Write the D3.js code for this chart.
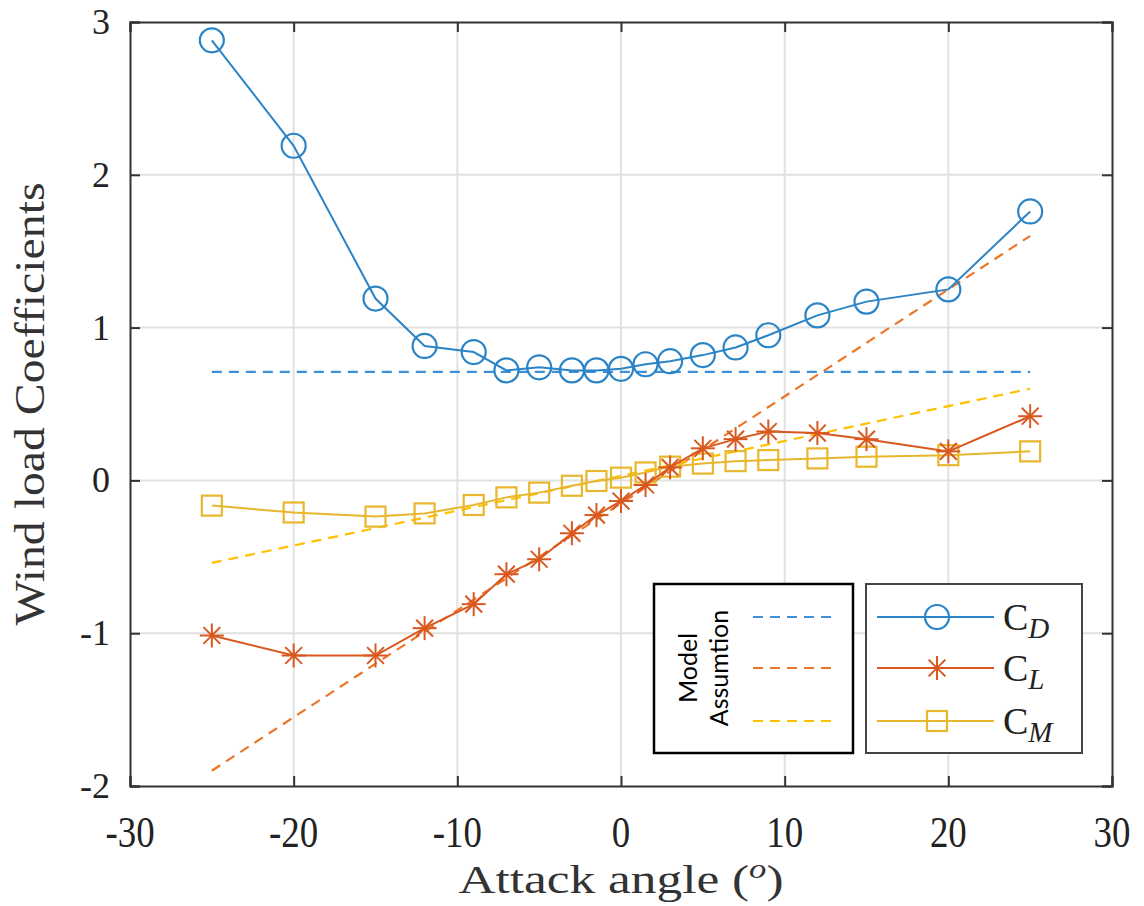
<!DOCTYPE html>
<html><head><meta charset="utf-8">
<script src="https://cdn.jsdelivr.net/npm/d3@7"></script>
<style>body{margin:0;background:#fff}svg{display:block}</style>
</head><body>
<script>
const angles = [-25,-20,-15,-12,-9,-7,-5,-3,-1.5,0,1.5,3,5,7,9,12,15,20,25];
const CD = [2.88,2.19,1.19,0.88,0.84,0.72,0.74,0.72,0.72,0.73,0.76,0.78,0.82,0.87,0.95,1.08,1.17,1.25,1.76];
const CL = [-1.015,-1.146,-1.146,-0.967,-0.81,-0.614,-0.516,-0.346,-0.227,-0.135,-0.03,0.085,0.21,0.27,0.32,0.31,0.27,0.19,0.42];
const CM = [-0.165,-0.21,-0.237,-0.216,-0.161,-0.111,-0.08,-0.035,-0.004,0.018,0.052,0.09,0.11,0.126,0.133,0.144,0.155,0.165,0.19];
// model assumption lines: [angle, value] end points
const modelCD = [[-25,0.71],[25,0.71]];
const modelCL = [[-25,-1.9],[25,1.6]];
const modelCM = [[-25,-0.54],[25,0.6]];
const xTicks = [-30,-20,-10,0,10,20,30];
const yTicks = [-2,-1,0,1,2,3];

const W=1144,H=906;
const svg=d3.select("body").append("svg").attr("width",W).attr("height",H);
const x=d3.scaleLinear().domain([-30,30]).range([130,1112]);
const y=d3.scaleLinear().domain([-2,3]).range([786,22]);

const cBlue="#2a84c6", cOrange="#d9581f", cYellow="#e8b72e";
const dBlue="#3d8fd6", dOrange="#ec7628", dYellow="#ffc000";

// grid
const g=svg.append("g");
g.selectAll(".gx").data(xTicks.slice(1,-1)).join("line")
 .attr("x1",d=>x(d)).attr("x2",d=>x(d)).attr("y1",22).attr("y2",786)
 .attr("stroke","#e1e1e1").attr("stroke-width",2);
g.selectAll(".gy").data(yTicks.slice(1,-1)).join("line")
 .attr("y1",d=>y(d)).attr("y2",d=>y(d)).attr("x1",130).attr("x2",1112)
 .attr("stroke","#e1e1e1").attr("stroke-width",2);

// axes (inner ticks, box)
const axB=d3.axisBottom(x).tickValues(xTicks).tickSize(-10).tickFormat("");
const axT=d3.axisTop(x).tickValues(xTicks).tickSize(-10).tickFormat("");
const axL=d3.axisLeft(y).tickValues(yTicks).tickSize(-10).tickFormat("");
const axR=d3.axisRight(y).tickValues(yTicks).tickSize(-10).tickFormat("");
[[axB,"translate(0,786)"],[axT,"translate(0,22)"],[axL,"translate(130,0)"],[axR,"translate(1112,0)"]].forEach(([a,t])=>{
  const s=svg.append("g").attr("transform",t).call(a);
  s.select(".domain").attr("stroke","#333").attr("stroke-width",2);
  s.selectAll(".tick line").attr("stroke","#333").attr("stroke-width",2);
});

// tick labels
svg.append("g").selectAll("text").data(xTicks).join("text")
 .attr("transform",d=>`translate(${x(d)},847) scale(0.82,1)`)
 .attr("text-anchor","middle").attr("font-family","Liberation Serif, serif")
 .attr("font-size",45).attr("fill","#222").text(d=>d);
svg.append("g").selectAll("text").data(yTicks).join("text")
 .attr("x",110).attr("y",d=>y(d)+12).attr("text-anchor","end")
 .attr("font-family","Liberation Serif, serif").attr("font-size",36).attr("fill","#222").text(d=>d);

// axis titles
const xt=svg.append("text").attr("x",x(0)).attr("y",893).attr("text-anchor","middle")
 .attr("font-family","Liberation Serif, serif").attr("font-size",40).attr("fill","#333")
 .attr("textLength",325).attr("lengthAdjust","spacingAndGlyphs");
xt.append("tspan").text("Attack angle (");
xt.append("tspan").attr("font-style","italic").attr("font-size",27).attr("dy",-15).text("o");
xt.append("tspan").attr("dy",15).text(")");
svg.append("text").attr("transform",`translate(44,${y(0.5)}) rotate(-90)`).attr("text-anchor","middle")
 .attr("font-family","Liberation Serif, serif").attr("font-size",43).attr("fill","#333")
 .attr("textLength",443).attr("lengthAdjust","spacingAndGlyphs").text("Wind load Coefficients");

// model lines
const line=d3.line().x(d=>x(d[0])).y(d=>y(d[1]));
[[modelCD,dBlue],[modelCL,dOrange],[modelCM,dYellow]].forEach(([d,c])=>{
  svg.append("path").attr("d",line(d)).attr("fill","none").attr("stroke",c).attr("stroke-width",2.2).attr("stroke-dasharray","10,7");
});

// series
const mk=(vals)=>angles.map((a,i)=>[a,vals[i]]);
const star=(sel,c)=>{
  const r=12;
  [[0,-r,0,r],[-r,0,r,0],[-r*0.7,-r*0.7,r*0.7,r*0.7],[-r*0.7,r*0.7,r*0.7,-r*0.7]].forEach(p=>{
    sel.append("line").attr("x1",p[0]).attr("y1",p[1]).attr("x2",p[2]).attr("y2",p[3]).attr("stroke",c).attr("stroke-width",2);
  });
};
function drawSeries(vals,c,type){
  svg.append("path").attr("d",line(mk(vals))).attr("fill","none").attr("stroke",c).attr("stroke-width",2);
  const gs=svg.append("g").selectAll("g").data(mk(vals)).join("g").attr("transform",d=>`translate(${x(d[0])},${y(d[1])})`);
  if(type==="o") gs.append("circle").attr("r",12).attr("fill","none").attr("stroke",c).attr("stroke-width",2.2);
  if(type==="s") gs.append("rect").attr("x",-10).attr("y",-10).attr("width",20).attr("height",20).attr("fill","none").attr("stroke",c).attr("stroke-width",2.2);
  if(type==="*") gs.each(function(){star(d3.select(this),c);});
}
drawSeries(CM,cYellow,"s");
drawSeries(CL,cOrange,"*");
drawSeries(CD,cBlue,"o");

// legend 1: model assumption
svg.append("rect").attr("x",654).attr("y",584).attr("width",199).attr("height",169).attr("fill","#fff").attr("stroke","#000").attr("stroke-width",2.5);
const mt=svg.append("text").attr("transform","translate(697,668) rotate(-90)").attr("text-anchor","middle")
 .attr("font-family","Lato, sans-serif").attr("font-size",25).attr("fill","#000");
mt.append("tspan").attr("x",0).attr("dy",0).text("Model");
mt.append("tspan").attr("x",0).attr("dy",31).text("Assumtion");
const legY=[617,668,721];
[dBlue,dOrange,dYellow].forEach((c,i)=>{
  svg.append("line").attr("x1",753).attr("x2",833).attr("y1",legY[i]).attr("y2",legY[i]).attr("stroke",c).attr("stroke-width",2.2).attr("stroke-dasharray","10,7");
});

// legend 2: series
svg.append("rect").attr("x",866).attr("y",584).attr("width",216).attr("height",169).attr("fill","#fff").attr("stroke","#444").attr("stroke-width",2);
const series=[["D",cBlue,"o"],["L",cOrange,"*"],["M",cYellow,"s"]];
series.forEach(([sub,c,t],i)=>{
  const yy=legY[i];
  svg.append("line").attr("x1",877).attr("x2",994).attr("y1",yy).attr("y2",yy).attr("stroke",c).attr("stroke-width",2);
  const gm=svg.append("g").attr("transform",`translate(937,${yy})`);
  if(t==="o") gm.append("circle").attr("r",12).attr("fill","none").attr("stroke",c).attr("stroke-width",2.2);
  if(t==="s") gm.append("rect").attr("x",-10).attr("y",-10).attr("width",20).attr("height",20).attr("fill","none").attr("stroke",c).attr("stroke-width",2.2);
  if(t==="*") star(gm,c);
  const tx=svg.append("text").attr("x",1003).attr("y",yy+13).attr("font-family","Liberation Serif, serif").attr("font-size",38).attr("fill","#222");
  tx.append("tspan").text("C");
  tx.append("tspan").attr("font-style","italic").attr("font-size",29).attr("dy",8).text(sub);
});
</script>
</body></html>
